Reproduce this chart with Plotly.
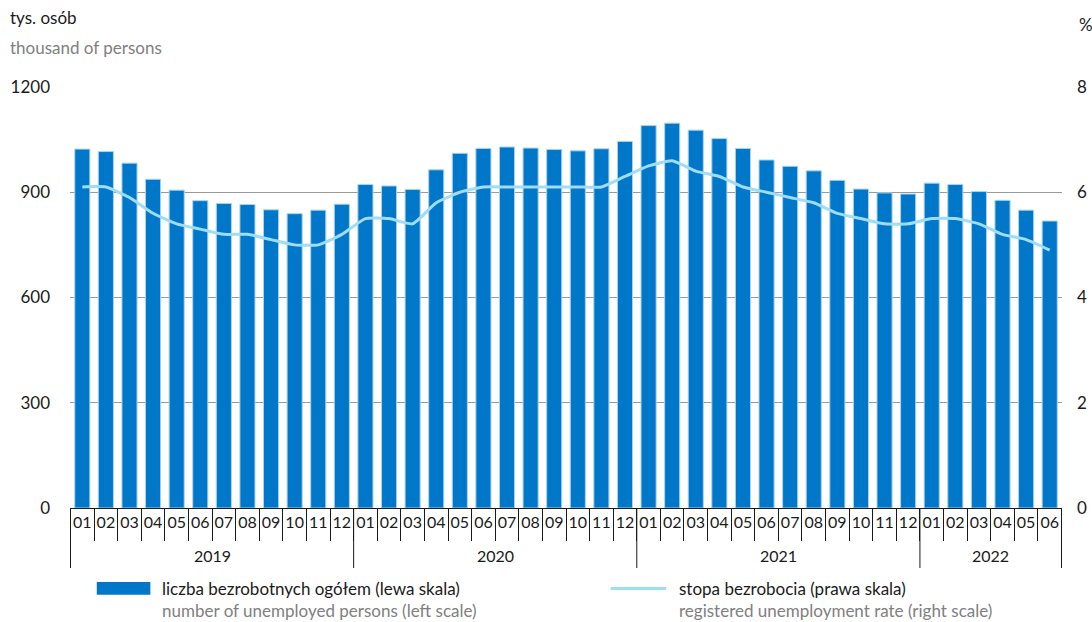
import plotly.graph_objects as go

years = ["2019"] * 12 + ["2020"] * 12 + ["2021"] * 12 + ["2022"] * 6
months = [f"{m:02d}" for m in range(1, 13)] * 3 + [f"{m:02d}" for m in range(1, 7)]
year_labels = ["2019", "2020", "2021", "2022"]

unemployed = [1023, 1016, 983, 937, 906, 876, 868, 865, 850, 839, 849, 866,
              922, 918, 908, 964, 1011, 1025, 1029, 1026, 1022, 1018, 1024, 1045,
              1090, 1097, 1077, 1053, 1025, 992, 974, 961, 934, 909, 898, 895,
              926, 922, 902, 877, 849, 818]

rate = [6.1, 6.1, 5.9, 5.6, 5.4, 5.3, 5.2, 5.2, 5.1, 5.0, 5.0, 5.2,
        5.5, 5.5, 5.4, 5.8, 6.0, 6.1, 6.1, 6.1, 6.1, 6.1, 6.1, 6.3,
        6.5, 6.6, 6.4, 6.3, 6.1, 6.0, 5.9, 5.8, 5.6, 5.5, 5.4, 5.4,
        5.5, 5.5, 5.4, 5.2, 5.1, 4.9]

left_ticks = [0, 300, 600, 900, 1200]
right_ticks = [0, 2, 4, 6, 8]

FONT = "Lato"
BAR_COLOR = "#0077c8"
LINE_COLOR = "#9edcf8"
GRAY = "#808080"
BLACK = "#1a1a1a"

keys = [f"{y}-{m}" for y, m in zip(years, months)]

fig = go.Figure()
fig.add_trace(go.Bar(
    x=keys, y=unemployed,
    marker=dict(color=BAR_COLOR, line=dict(color="#a8d4f0", width=1)),
    showlegend=False, yaxis="y",
))
fig.add_trace(go.Scatter(
    x=keys, y=rate, mode="lines",
    line=dict(color=LINE_COLOR, width=3, shape="spline", smoothing=0.5),
    showlegend=False, yaxis="y2",
))

fig.update_layout(
    width=1092, height=622,
    margin=dict(l=70, r=30, t=87, b=114, autoexpand=False),
    paper_bgcolor="white", plot_bgcolor="white",
    font=dict(family=FONT, size=15, color=BLACK),
    bargap=0.36,
    xaxis=dict(
        type="category", automargin=False,
        tickmode="array", tickvals=keys, ticktext=months,
        showline=True, linecolor=BLACK, linewidth=1,
        ticks="outside", tickson="boundaries", ticklen=32, tickcolor=BLACK,
        tickangle=0,
        tickfont=dict(family=FONT, size=16, color=BLACK),
        showgrid=False,
    ),
    yaxis=dict(
        range=[0, 1200], tickvals=left_ticks, showgrid=True, automargin=False,
        gridcolor="#9a9a9a", gridwidth=1, zeroline=False,
        ticks="", tickfont=dict(family=FONT, size=17, color=BLACK),
        ticklabelstandoff=19,
    ),
    yaxis2=dict(
        range=[0, 8], tickvals=right_ticks, overlaying="y", side="right", automargin=False,
        showgrid=False, zeroline=False, ticks="",
        tickfont=dict(family=FONT, size=17, color=BLACK),
        ticklabelstandoff=14,
    ),
)

# year separators and labels derived from the year list
bounds = [0]
for i in range(1, len(years)):
    if years[i] != years[i - 1]:
        bounds.append(i)
bounds.append(len(years))
for b in bounds:
    fig.add_shape(type="line", xref="x", yref="paper", x0=b - 0.5, x1=b - 0.5,
                  y0=0, y1=-0.1425, line=dict(color=BLACK, width=1))
for yl, b0, b1 in zip(year_labels, bounds[:-1], bounds[1:]):
    fig.add_annotation(x=(b0 + b1 - 1) / 2, y=-0.112, xref="x", yref="paper",
                       xanchor="center", yanchor="middle", text=yl, showarrow=False,
                       font=dict(family=FONT, size=16, color=BLACK))

# titles
fig.add_annotation(x=0, y=1, xref="paper", yref="paper", xanchor="left", yanchor="bottom",
                   xshift=-62, yshift=57, text="tys. osób", showarrow=False,
                   font=dict(family=FONT, size=17, color=BLACK))
fig.add_annotation(x=0, y=1, xref="paper", yref="paper", xanchor="left", yanchor="bottom",
                   xshift=-62, yshift=27, text="thousand of persons", showarrow=False,
                   font=dict(family=FONT, size=17, color=GRAY))
fig.add_annotation(x=1, y=1, xref="paper", yref="paper", xanchor="left", yanchor="bottom",
                   xshift=15, yshift=50, text="%", showarrow=False,
                   font=dict(family=FONT, size=17, color=BLACK))

# legend
fig.add_shape(type="rect", xref="paper", yref="paper", x0=0.027, x1=0.081,
              y0=-0.206, y1=-0.176, fillcolor=BAR_COLOR, line=dict(width=0))
fig.add_shape(type="line", xref="paper", yref="paper", x0=0.545, x1=0.601,
              y0=-0.191, y1=-0.191, line=dict(color=LINE_COLOR, width=3))
fig.add_annotation(x=0.091, y=-0.191, xref="paper", yref="paper", xanchor="left", yanchor="middle",
                   text="liczba bezrobotnych ogółem (lewa skala)", showarrow=False,
                   font=dict(family=FONT, size=17, color=BLACK))
fig.add_annotation(x=0.091, y=-0.244, xref="paper", yref="paper", xanchor="left", yanchor="middle",
                   text="number of unemployed persons (left scale)", showarrow=False,
                   font=dict(family=FONT, size=17, color=GRAY))
fig.add_annotation(x=0.612, y=-0.191, xref="paper", yref="paper", xanchor="left", yanchor="middle",
                   text="stopa bezrobocia (prawa skala)", showarrow=False,
                   font=dict(family=FONT, size=17, color=BLACK))
fig.add_annotation(x=0.612, y=-0.244, xref="paper", yref="paper", xanchor="left", yanchor="middle",
                   text="registered unemployment rate (right scale)", showarrow=False,
                   font=dict(family=FONT, size=17, color=GRAY))

fig.write_html("out.html", config={"displayModeBar": False},
               post_script="document.body.style.margin='0';")
